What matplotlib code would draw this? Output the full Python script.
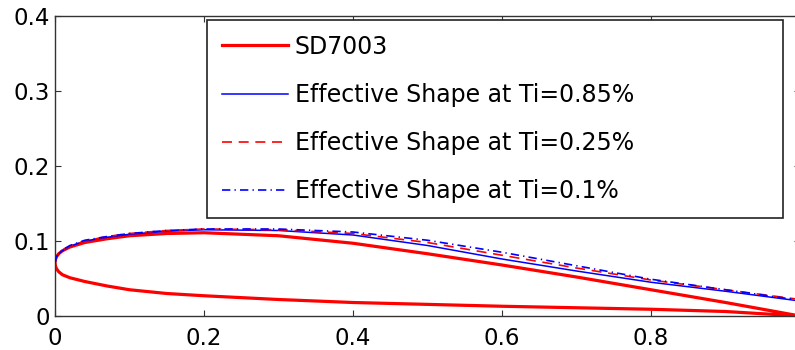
import matplotlib
matplotlib.use("Agg")
import matplotlib.pyplot as plt

plt.rcParams['font.family'] = ['DejaVu Sans']

# SD7003 contour (upper surface TE -> LE, lower surface LE -> TE)
x_upper = [1.0, 0.9, 0.8, 0.7, 0.6, 0.5, 0.4, 0.3, 0.2, 0.15, 0.1, 0.07,
           0.04, 0.02, 0.01, 0.005, 0.002, 0.0005, 0.0]
y_upper = [0.0, 0.018, 0.035, 0.052, 0.068, 0.083, 0.097, 0.107, 0.111, 0.110,
           0.107, 0.103, 0.098, 0.092, 0.087, 0.083, 0.079, 0.075, 0.071]
x_lower = [0.0, 0.0005, 0.002, 0.005, 0.01, 0.02, 0.04, 0.07, 0.1, 0.15, 0.2,
           0.3, 0.4, 0.5, 0.6, 0.7, 0.8, 0.9, 1.0]
y_lower = [0.071, 0.067, 0.063, 0.059, 0.055, 0.051, 0.046, 0.040, 0.035, 0.030,
           0.027, 0.022, 0.018, 0.0155, 0.013, 0.011, 0.009, 0.006, 0.0]

# effective shapes (upper surface only)
x_eff = [0.0, 0.002, 0.005, 0.01, 0.02, 0.04, 0.07, 0.1, 0.15, 0.2, 0.3, 0.4,
         0.5, 0.6, 0.7, 0.8, 0.9, 1.0]
y_ti085 = [0.071, 0.079, 0.083, 0.087, 0.093, 0.100, 0.105, 0.109, 0.113, 0.115,
           0.114, 0.108, 0.094, 0.076, 0.060, 0.045, 0.033, 0.020]
y_ti025 = [0.071, 0.079, 0.083, 0.088, 0.093, 0.100, 0.106, 0.110, 0.114, 0.116,
           0.115, 0.110, 0.098, 0.081, 0.064, 0.048, 0.035, 0.022]
y_ti010 = [0.071, 0.079, 0.083, 0.088, 0.094, 0.101, 0.106, 0.110, 0.114, 0.116,
           0.116, 0.112, 0.101, 0.085, 0.067, 0.049, 0.035, 0.021]

labels = ['SD7003', 'Effective Shape at Ti=0.85%',
          'Effective Shape at Ti=0.25%', 'Effective Shape at Ti=0.1%']
x_ticks = [0, 0.2, 0.4, 0.6, 0.8]
x_ticklabels = ['0', '0.2', '0.4', '0.6', '0.8']
y_ticks = [0, 0.1, 0.2, 0.3, 0.4]
y_ticklabels = ['0', '0.1', '0.2', '0.3', '0.4']

fig = plt.figure(figsize=(7.95, 3.5), dpi=100)
# axes runs a bit past the right edge, like the cropped original
ax = fig.add_axes([55 / 795, 34 / 350, 745 / 795, 300 / 350])

ax.plot(x_upper + x_lower, y_upper + y_lower, color='#ff0000', lw=2.3,
        label=labels[0], zorder=2)
ax.plot(x_eff, y_ti085, color='#0000ff', lw=1.1, label=labels[1], zorder=3)
ax.plot(x_eff, y_ti025, color='#ff0000', lw=1.2, ls=(0, (6, 4)),
        label=labels[2], zorder=4)
ax.plot(x_eff, y_ti010, color='#0000ff', lw=1.2, ls=(0, (5, 2.5, 0.8, 2.5)),
        label=labels[3], zorder=5)

ax.set_xlim(0, 1)
ax.set_ylim(0, 0.4)
ax.set_xticks(x_ticks)
ax.set_xticklabels(x_ticklabels)
ax.set_yticks(y_ticks)
ax.set_yticklabels(y_ticklabels)
ax.tick_params(direction='in', length=4, width=0.8, color='#333333',
               top=True, right=True, labelsize=16.5)
ax.tick_params(axis='x', pad=8)
ax.tick_params(axis='y', pad=3.5)
for sp in ax.spines.values():
    sp.set_color('#333333')
    sp.set_linewidth(1.0)

leg = ax.legend(loc='upper left', bbox_to_anchor=(0.204, 0.33, 0.773, 0.657),
                mode='expand', borderaxespad=0, fontsize=17, fancybox=False,
                handlelength=2.8, handletextpad=0.3, labelspacing=1.03,
                borderpad=0.62, framealpha=1)
leg.get_frame().set_edgecolor('#222222')
leg.get_frame().set_linewidth(1.2)

fig.savefig('out.png', dpi=100)
